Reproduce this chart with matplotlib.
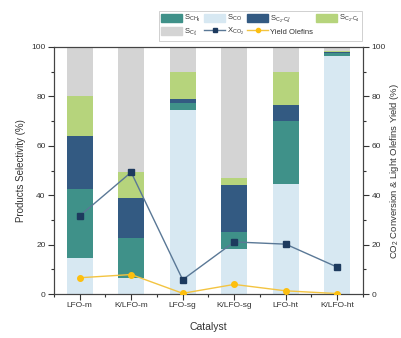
import matplotlib.pyplot as plt
from matplotlib.ticker import MultipleLocator
from matplotlib.lines import Line2D
from matplotlib.patches import Patch
import numpy as np

plt.rcParams['font.family'] = ['Liberation Sans', 'DejaVu Sans']
plt.rcParams['mathtext.fontset'] = 'custom'
plt.rcParams['mathtext.rm'] = 'Liberation Sans'
plt.rcParams['mathtext.it'] = 'Liberation Sans'

catalysts = ['LFO-m', 'K/LFO-m', 'LFO-sg', 'K/LFO-sg', 'LFO-ht', 'K/LFO-ht']

# stacked selectivities (%), bottom to top
s_co = [14.5, 6.5, 74.5, 18.1, 44.4, 96.4]
s_ch4 = [28.0, 16.0, 3.0, 7.0, 25.8, 1.3]
s_olef = [21.5, 16.5, 1.5, 19.0, 6.4, 0.3]
s_paraf = [16.0, 10.5, 11.0, 2.8, 13.4, 0.2]
s_c5 = [20.0, 50.5, 10.0, 53.1, 10.0, 1.8]

x_co2 = [31.6, 49.3, 5.8, 21.1, 20.2, 10.9]
yield_olef = [6.6, 7.9, 0.3, 3.9, 1.3, 0.2]

c_co = '#d7e8f2'
c_ch4 = '#3f9189'
c_olef = '#335a82'
c_paraf = '#b6d47c'
c_c5 = '#d4d4d4'
txt = '#333333'

fig = plt.figure(figsize=(4.02, 3.38), dpi=100)
ax = fig.add_axes([0.134, 0.130, 0.769, 0.731])

x = np.arange(len(catalysts))
w = 0.5
bottom = np.zeros(len(catalysts))
stack = [(s_co, c_co), (s_ch4, c_ch4), (s_olef, c_olef), (s_paraf, c_paraf), (s_c5, c_c5)]
for vals, col in stack:
    ax.bar(x, vals, w, bottom=bottom, color=col, edgecolor='none', zorder=2)
    bottom += np.array(vals)

ax.set_xlim(-0.5, 5.5)
ax.set_ylim(0, 100)
ax.set_xticks(x)
ax.set_xticklabels(catalysts)
ax.xaxis.set_minor_locator(MultipleLocator(0.5))
ax.yaxis.set_major_locator(MultipleLocator(20))
ax.yaxis.set_minor_locator(MultipleLocator(10))
ax.tick_params(which='major', direction='out', length=4, width=0.8, labelsize=6, colors=txt, pad=2)
ax.tick_params(which='minor', direction='out', length=2, width=0.8, colors=txt)
ax.set_ylabel('Products Selectivity (%)', fontsize=7, color=txt, labelpad=4)
ax.set_xlabel('Catalyst', fontsize=7.5, color=txt, labelpad=9)
for sp in ax.spines.values():
    sp.set_color('#444444')
    sp.set_linewidth(0.8)

ax2 = ax.twinx()
ax2.set_ylim(0, 100)
ax2.yaxis.set_major_locator(MultipleLocator(20))
ax2.yaxis.set_minor_locator(MultipleLocator(10))
ax2.tick_params(which='major', direction='out', length=4, width=0.8, labelsize=6, colors=txt, pad=2)
ax2.tick_params(which='minor', direction='out', length=2, width=0.8, colors=txt)
ax2.set_ylabel('CO$_2$ Conversion & Light Olefins Yield (%)', fontsize=6.8, color=txt, labelpad=2)
for sp in ax2.spines.values():
    sp.set_color('#444444')
    sp.set_linewidth(0.8)

ax2.plot(x, x_co2, color='#5a7896', lw=1, marker='s', ms=4,
         mfc='#1d3a5e', mec='#1d3a5e', zorder=3)
ax2.plot(x, yield_olef, color='#f3c441', lw=1, marker='o', ms=4,
         mfc='#fdbf0f', mec='#fdbf0f', zorder=3)

handles = [
    Patch(color=c_ch4, label='S$_{CH_4}$'),
    Patch(color=c_c5, label='S$_{C_5^+}$'),
    Patch(color=c_co, label='S$_{CO}$'),
    Line2D([], [], color='#5a7896', lw=1, marker='s', ms=3, mfc='#1d3a5e', mec='#1d3a5e', label='X$_{CO_2}$'),
    Patch(color=c_olef, label='S$_{C_2\\text{-}C_4^=}$'),
    Line2D([], [], color='#f3c441', lw=1, marker='o', ms=3, mfc='#fdbf0f', mec='#fdbf0f', label='Yield Olefins'),
    Patch(color=c_paraf, label='S$_{C_2\\text{-}C_4}$'),
]
leg = fig.legend(handles=handles, ncol=4, loc='upper right', bbox_to_anchor=(0.905, 0.972),
                 fontsize=5.5, frameon=True, fancybox=False, edgecolor='#bbbbbb',
                 handlelength=2.8, handleheight=1.2, columnspacing=0.35, handletextpad=0.25,
                 borderpad=0.3, labelspacing=0.3, borderaxespad=0.2)
leg.get_frame().set_linewidth(0.6)
for t in leg.get_texts():
    t.set_color(txt)

fig.savefig('out.png', dpi=100)
